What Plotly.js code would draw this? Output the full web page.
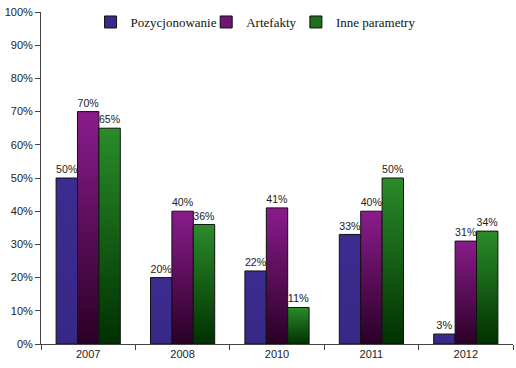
<!DOCTYPE html>
<html><head><meta charset="utf-8">
<script src="https://cdn.plot.ly/plotly-3.0.1.min.js"></script>
<style>html,body{margin:0;padding:0;background:#fff;}#chart{width:516px;height:368px;}</style>
</head><body><div id="chart"></div>
<script>
const categories = ['2007', '2008', '2010', '2011', '2012'];
const pozycjonowanie = [50, 20, 22, 33, 3];
const artefakty = [70, 40, 41, 40, 31];
const inneParametry = [65, 36, 11, 50, 34];
const seriesNames = ['Pozycjonowanie', 'Artefakty', 'Inne parametry'];
const seriesColors = ['#3b2a8c', '#6e1670', '#1e6e1e'];

function mk(name, vals, color, leg) {
  return {
    type: 'bar', name: name, x: categories, y: vals, legend: leg,
    text: vals.map(v => v + '%'), textposition: 'outside', cliponaxis: false,
    textfont: {family: 'Liberation Sans, Arial', size: 11, color: '#222'},
    marker: {color: color, line: {color: '#111', width: 1}},
    hoverinfo: 'none'
  };
}
const data = [
  mk(seriesNames[0], pozycjonowanie, seriesColors[0], 'legend'),
  mk(seriesNames[1], artefakty, seriesColors[1], 'legend2'),
  mk(seriesNames[2], inneParametry, seriesColors[2], 'legend3')
];
function leg(x) {
  return {orientation: 'h', x: x, y: 1.015, xanchor: 'left', yanchor: 'top',
    font: {family: 'Liberation Serif, Times New Roman', size: 13, color: '#111'},
    bgcolor: 'rgba(0,0,0,0)'};
}
const layout = {
  width: 516, height: 368,
  margin: {l: 41, r: 3, t: 12, b: 24},
  paper_bgcolor: '#fff', plot_bgcolor: '#fff',
  bargap: 0.32, bargroupgap: 0,
  showlegend: true,
  legend: leg(0.105),
  legend2: leg(0.35),
  legend3: leg(0.54),
  xaxis: {type: 'category', showline: true, linecolor: '#444', linewidth: 1,
    ticks: 'outside', tickson: 'boundaries', ticklen: 5, tickcolor: '#444',
    tickfont: {family: 'Liberation Sans, Arial', size: 11, color: '#222'},
    showgrid: false, zeroline: false, fixedrange: true},
  yaxis: {range: [0, 100], dtick: 10, ticksuffix: '%', showline: true, linecolor: '#444', linewidth: 1,
    ticks: 'outside', ticklen: 5, tickcolor: '#444',
    tickfont: {family: 'Liberation Sans, Arial', size: 11, color: '#222'},
    showgrid: false, zeroline: false, fixedrange: true}
};
function applyGradients(gd) {
  const svg = gd.querySelector('svg.main-svg');
  if (!svg) return;
  const ns = 'http://www.w3.org/2000/svg';
  let defs = svg.querySelector('defs');
  if (!defs) { defs = document.createElementNS(ns, 'defs'); svg.insertBefore(defs, svg.firstChild); }
  const grads = [
    ['g0', '#3d2c90', '#372886'],
    ['g1', '#8a1c8c', '#2a0026'],
    ['g2', '#2a8c2a', '#013001']
  ];
  grads.forEach(([id, top, bot]) => {
    if (svg.querySelector('#' + id)) return;
    const lg = document.createElementNS(ns, 'linearGradient');
    lg.setAttribute('id', id); lg.setAttribute('x1', '0'); lg.setAttribute('y1', '0');
    lg.setAttribute('x2', '0'); lg.setAttribute('y2', '1');
    [[0, top], [1, bot]].forEach(([o, c]) => {
      const s = document.createElementNS(ns, 'stop');
      s.setAttribute('offset', o); s.setAttribute('stop-color', c);
      lg.appendChild(s);
    });
    defs.appendChild(lg);
  });
  const traces = gd.querySelectorAll('.barlayer .trace');
  traces.forEach((t, i) => {
    t.querySelectorAll('.point path').forEach(p => { p.style.fill = 'url(#g' + i + ')'; });
  });
}
Plotly.newPlot('chart', data, layout, {staticPlot: true, displayModeBar: false}).then(gd => {
  applyGradients(gd);
  gd.on('plotly_afterplot', () => applyGradients(gd));
});
</script></body></html>
